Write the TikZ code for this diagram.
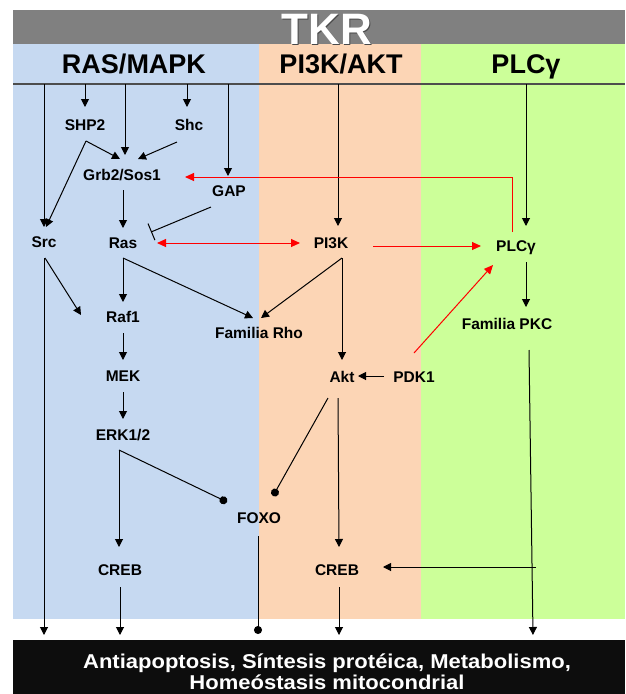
\documentclass[tikz,border=0pt]{standalone}
\usepackage{fontspec}
\setmainfont{Liberation Sans}
\usetikzlibrary{arrows.meta,calc}

\definecolor{rasbg}{HTML}{C6D9F1}
\definecolor{pibg}{HTML}{FCD5B5}
\definecolor{plcbg}{HTML}{CCFF99}
\definecolor{barbg}{HTML}{808080}
\definecolor{outbg}{HTML}{0D0D0D}
\definecolor{rulegray}{HTML}{4D4D4D}
\definecolor{shadowgray}{HTML}{4A4A4A}

\begin{document}
\begin{tikzpicture}[x=1pt,y=-1pt,
  lbl/.style={font=\fontsize{15.5}{18}\selectfont\bfseries, inner sep=0pt,
              text height=11pt, text depth=0pt},
  hdr/.style={font=\fontsize{27}{30}\selectfont\bfseries, inner sep=0pt,
              text height=19.5pt, text depth=0pt},
  link/.style={line width=1pt, draw=black},
  act/.style={link, -{Triangle[length=8pt,width=8pt]}},
  dotend/.style={link, -{Circle[length=8pt]}},
  blockend/.style={link, -{Bar[width=18pt,line width=1pt]}},
  ract/.style={line width=1pt, draw=red, -{Triangle[length=9pt,width=8pt]}},
  rboth/.style={line width=1pt, draw=red, {Triangle[length=9pt,width=8pt]}-{Triangle[length=9pt,width=8pt]}},
]
\useasboundingbox (0,0) rectangle (625,694);

% pathway columns
\fill[rasbg] (13,44) rectangle (259,619);
\fill[pibg]  (259,44) rectangle (421,619);
\fill[plcbg] (421,44) rectangle (625,619);

% receptor bar
\fill[barbg] (13,10) rectangle (625,44);
\node[font=\fontsize{44}{48}\selectfont\bfseries, text=shadowgray, inner sep=0pt,
      text height=32pt, text depth=0pt] at (328.2,29.2) {TKR};
\node[font=\fontsize{44}{48}\selectfont\bfseries, text=white, inner sep=0pt,
      text height=32pt, text depth=0pt] (tkr) at (327,28) {TKR};

% column headers
\node[hdr] (h1) at (134,64) {RAS/MAPK};
\node[hdr] (h2) at (341,64) {PI3K/AKT};
\node[hdr] (h3) at (526,64) {PLCγ};
\draw[rulegray, line width=1.5pt] (13,84) -- (625,84);

% output box
\fill[outbg] (13,640) rectangle (625,694);
\node[font=\fontsize{20}{21}\selectfont\bfseries, text=white, align=center, inner sep=0pt]
  (out) at (327,672)
  {\scalebox{1.1}[1]{Antiapoptosis, Síntesis protéica, Metabolismo,}\\
   \scalebox{1.1}[1]{Homeóstasis mitocondrial}};

% signalling nodes
\node[lbl] (shp2)  at (85,125)  {SHP2};
\node[lbl] (shc)   at (189,125) {Shc};
\node[lbl] (grb)   at (122,175) {Grb2/Sos1};
\node[lbl] (gap)   at (229,191) {GAP};
\node[lbl] (src)   at (44,242)  {Src};
\node[lbl] (ras)   at (123,243) {Ras};
\node[lbl] (pi3k)  at (331,243) {PI3K};
\node[lbl] (plc)   at (516,246) {PLCγ};
\node[lbl] (raf)   at (123,317) {Raf1};
\node[lbl] (rho)   at (259,333) {Familia Rho};
\node[lbl] (pkc)   at (507,324) {Familia PKC};
\node[lbl] (mek)   at (123,376) {MEK};
\node[lbl] (akt)   at (342,377) {Akt};
\node[lbl] (pdk)   at (414,377) {PDK1};
\node[lbl] (erk)   at (123,435) {ERK1/2};
\node[lbl] (foxo)  at (259,518) {FOXO};
\node[lbl] (creb1) at (120,570) {CREB};
\node[lbl] (creb2) at (337,570) {CREB};

% attachment points on the receptor line
\coordinate (b1) at (44,84);
\coordinate (b2) at (85,84);
\coordinate (b3) at (125,84);
\coordinate (b4) at (187,84);
\coordinate (b5) at (228,84);
\coordinate (b6) at (338,84);
\coordinate (b7) at (526,84);

% entry points on the output box
\coordinate (o1) at (44,635);
\coordinate (o2) at (120,635);
\coordinate (o3) at (258,634);
\coordinate (o4) at (339,635);
\coordinate (o5) at (533,635);
\coordinate (k1) at (536,567);

% receptor to first effectors
\draw[act] (b1) -- ($(src)+(0,-15)$);
\draw[act] (b2) -- ($(shp2)+(0,-18)$);
\draw[act] (b3) -- ($(grb)+(3,-20)$);
\draw[act] (b4) -- ($(shc)+(-2,-18)$);
\draw[act] (b5) -- ($(gap)+(-1,-15)$);
\draw[act] (b6) -- ($(pi3k)+(7,-17)$);
\draw[act] (b7) -- ($(plc)+(10,-20)$);

% RAS/MAPK branch
\draw[act] ($(shp2)+(1,16)$) -- ($(grb)+(-2,-16)$);
\draw[act] ($(shc)+(-12,17)$) -- ($(grb)+(16,-16)$);
\draw[act] ($(shp2)+(1,16)$) -- ($(src)+(2,-15)$);
\draw[act] ($(grb)+(1,15)$) -- ($(ras)+(0,-15)$);
\draw[blockend] ($(gap)+(-18,16)$) -- ($(ras)+(28,-11)$);
\draw[act] ($(ras)+(0,15)$) -- ($(raf)+(0,-15)$);
\draw[act] ($(ras)+(0,15)$) -- ($(rho)+(-6,-15)$);
\draw[act] ($(src)+(1,16)$) -- ($(raf)+(-42,-2)$);
\draw[act] ($(raf)+(0,16)$) -- ($(mek)+(0,-16)$);
\draw[act] ($(mek)+(0,16)$) -- ($(erk)+(0,-16)$);
\draw[act] ($(erk)+(-4,15)$) -- ($(creb1)+(-1,-23)$);
\draw[dotend] ($(erk)+(-4,15)$) -- ($(foxo)+(-32,-16)$);

% PI3K/AKT branch
\draw[act] ($(pi3k)+(11,15)$) -- ($(rho)+(2,-15)$);
\draw[act] ($(pi3k)+(11,15)$) -- ($(akt)+(0,-17)$);
\draw[act] ($(pdk)+(-30,-1)$) -- ($(akt)+(16,-1)$);
\draw[dotend] ($(akt)+(-14,21)$) -- ($(foxo)+(14,-22)$);
\draw[act] ($(akt)+(-4,21)$) -- ($(creb2)+(2,-23)$);

% PLCgamma branch
\draw[act] ($(plc)+(10,16)$) -- ($(pkc)+(19,-17)$);
\draw[act] (k1) -- ($(creb2)+(46,-3)$);

% cross-talk (red)
\draw[rboth] ($(ras)+(34,0)$) -- ($(pi3k)+(-31,0)$);
\draw[ract] ($(pi3k)+(42,3)$) -- ($(plc)+(-35,0)$);
\draw[ract] ($(plc)+(-4,-14)$) |- ($(grb)+(63,2)$);
\draw[ract] ($(pdk)+(0,-24)$) -- ($(plc)+(-23,19)$);

% to the cellular outcomes
\draw[act] ($(src)+(0,16)$) -- (o1);
\draw[act] ($(creb1)+(0,17)$) -- (o2);
\draw[dotend] ($(foxo)+(-1,18)$) -- (o3);
\draw[act] ($(creb2)+(2,17)$) -- (o4);
\draw[act] ($(pkc)+(22,26)$) -- (o5);
\end{tikzpicture}
\end{document}
